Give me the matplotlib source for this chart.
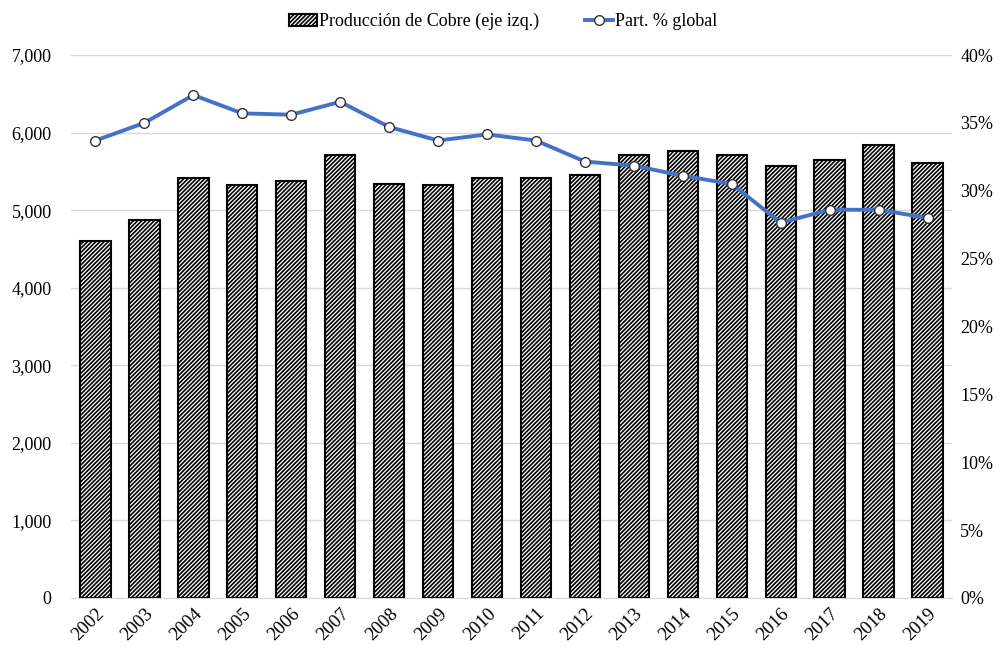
import numpy as np
import matplotlib.pyplot as plt
from matplotlib.ticker import FuncFormatter

years = [str(y) for y in range(2002, 2020)]
produccion = [4600, 4870, 5420, 5330, 5370, 5710, 5340, 5330, 5410,
              5410, 5450, 5710, 5760, 5710, 5565, 5640, 5845, 5610]
participacion = [33.7, 35.0, 37.05, 35.7, 35.6, 36.55, 34.7, 33.7, 34.15,
                 33.7, 32.15, 31.85, 31.1, 30.5, 27.65, 28.6, 28.6, 28.0]

plt.rcParams['font.family'] = ['Liberation Serif', 'DejaVu Serif']
plt.rcParams['hatch.linewidth'] = 1.2
plt.rcParams['hatch.color'] = 'black'

fig = plt.figure(figsize=(10.06, 6.48), dpi=100)
ax = fig.add_axes([71 / 1006, 50 / 648, 881 / 1006, 543 / 648])
x = np.arange(len(years))

bars = ax.bar(x, produccion, width=0.62, color='white', edgecolor='black',
              hatch='////////', linewidth=1.5, label='Producción de Cobre (eje izq.)', zorder=2)
ax.set_ylim(0, 7000)
ax.set_xlim(-0.5, len(years) - 0.5)
ax.set_yticks(range(0, 7001, 1000))
ax.yaxis.set_major_formatter(FuncFormatter(lambda v, p: f'{int(v):,}'))
ax.grid(axis='y', color='#d9d9d9', linewidth=1.0, zorder=0)
ax.set_axisbelow(True)
ax.set_xticks(x)
ax.set_xticklabels(years, rotation=45, ha='right', rotation_mode='anchor')
for s in ['top', 'right', 'left']:
    ax.spines[s].set_visible(False)
ax.spines['bottom'].set_color('#d9d9d9')
ax.tick_params(axis='both', length=0, labelsize=13, colors='black')
ax.tick_params(axis='x', labelsize=13.5, pad=5)
ax.tick_params(axis='y', pad=14)

ax2 = ax.twinx()
line, = ax2.plot(x, participacion, color='#4472C4', linewidth=2.8, marker='o',
                 markersize=7, markerfacecolor='white', markeredgecolor='#333333',
                 markeredgewidth=1.0, label='Part. % global', zorder=3)
ax2.set_ylim(0, 40)
ax2.set_yticks(range(0, 41, 5))
ax2.yaxis.set_major_formatter(FuncFormatter(lambda v, p: f'{int(v)}%'))
for s in ['top', 'right', 'left', 'bottom']:
    ax2.spines[s].set_visible(False)
ax2.tick_params(axis='y', length=0, labelsize=13, pad=6)

fig.legend([bars, line], ['Producción de Cobre (eje izq.)', 'Part. % global'],
           loc='upper center', bbox_to_anchor=(0.5, 1.005), ncol=2, frameon=False,
           fontsize=13, handlelength=1.6, handletextpad=0.1, columnspacing=2.5)

fig.savefig('out.png', dpi=100)
